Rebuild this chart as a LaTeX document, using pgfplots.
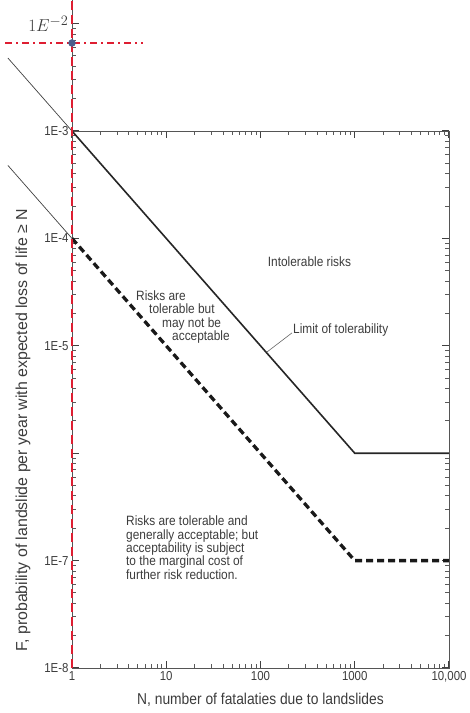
\documentclass[border=0pt]{standalone}
\usepackage{fontspec}
\setmainfont[FakeStretch=0.88]{Liberation Sans}
\newfontfamily\ylabfont{Liberation Sans}
\usepackage{pgfplots}
\pgfplotsset{compat=1.18}
\definecolor{riskred}{RGB}{222,30,50}
\definecolor{dotblue}{RGB}{75,95,140}
\definecolor{axgray}{RGB}{85,85,85}
\definecolor{txtgray}{RGB}{60,60,60}

\begin{document}
\begin{tikzpicture}
\useasboundingbox (-72pt,-45pt) rectangle (398pt,668pt);

% upper part of the F axis, up to 1E-2
\begin{axis}[
  scale only axis, width=377pt, height=668pt,
  xmode=log, ymode=log,
  xmin=1, xmax=10000, ymin=1e-8, ymax=0.01659,
  axis x line=none, axis y line*=left,
  axis line style={axgray, line width=0.9pt},
  major tick style={black!75, line width=1.2pt},
  minor tick style={black!65, line width=0.9pt},
  tick align=inside,
  major tick length=7pt, minor tick length=4pt,
  ytick={1e-3,1e-2}, yticklabels={,$1E^{-2}$},
  minor ytick={2e-3,3e-3,4e-3,5e-3,6e-3,7e-3,8e-3,9e-3},
  yticklabel style={font=\fontsize{19}{21}\selectfont, text=txtgray},
]
\end{axis}

\begin{axis}[
  scale only axis, width=377pt, height=537pt,
  xmode=log, ymode=log,
  xmin=1, xmax=10000, ymin=1e-8, ymax=1e-3,
  clip=false,
  axis line style={axgray, line width=0.9pt},
  major tick style={black!75, line width=1.2pt},
  minor tick style={black!65, line width=0.9pt},
  tick align=inside,
  major tick length=7pt, minor tick length=4pt,
  xtick={1,10,100,1000,10000},
  xticklabels={1,10,100,1000,{10,000}},
  minor xtick={2,3,4,5,6,7,8,9,20,30,40,50,60,70,80,90,200,300,400,500,600,700,800,900,2000,3000,4000,5000,6000,7000,8000,9000},
  ytick={1e-8,1e-7,1e-6,1e-5,1e-4,1e-3},
  yticklabels={1E-8,1E-7,,1E-5,1E-4,1E-3},
  minor ytick={2e-8,3e-8,4e-8,5e-8,6e-8,7e-8,8e-8,9e-8,
    2e-7,3e-7,4e-7,5e-7,6e-7,7e-7,8e-7,9e-7,
    2e-6,3e-6,4e-6,5e-6,6e-6,7e-6,8e-6,9e-6,
    2e-5,3e-5,4e-5,5e-5,6e-5,7e-5,8e-5,9e-5,
    2e-4,3e-4,4e-4,5e-4,6e-4,7e-4,8e-4,9e-4},
  ticklabel style={font=\fontsize{13}{15}\selectfont, text=txtgray},
  xlabel={N, number of fatalaties due to landslides},
  ylabel={\ylabfont F, probability of landslide per year with expected loss of life ≥ N},
  xlabel style={font=\fontsize{15.7}{18}\selectfont, text=txtgray,
    at={(axis description cs:0.5,-0.0596)}, anchor=center},
  ylabel style={font=\fontsize{15.9}{18}\selectfont, text=txtgray,
    at={(axis description cs:-0.130,0.443)}, anchor=center},
]
% limit of tolerability
\addplot[black!85, line width=1.6pt] coordinates {(1,1e-3) (1000,1e-6) (10000,1e-6)};
% limit of acceptability
\addplot[black!90, line width=3.3pt, dash pattern=on 7pt off 4pt] coordinates {(1,1e-4) (1000,1e-7) (10000,1e-7)};
% thin extensions left of N=1
\addplot[black!75, line width=0.7pt] coordinates {(0.209,4.78e-3) (1,1e-3)};
\addplot[black!75, line width=0.7pt] coordinates {(0.209,4.78e-4) (1,1e-4)};
% leader to label
\addplot[black!60, line width=0.6pt] coordinates {(117,8.75e-6) (216,1.32e-5)};
% red marker lines
\addplot[riskred, line width=1.8pt, dash pattern=on 9pt off 5pt] coordinates {(1,1e-8) (1,0.0166)};
\addplot[riskred, line width=2.5pt, dash pattern=on 7pt off 4pt on 2pt off 4pt] coordinates {(0.195,6.6e-3) (5.67,6.6e-3)};
\addplot[only marks, mark=*, mark size=3.5pt, dotblue] coordinates {(1,6.6e-3)};

\begin{scope}[every node/.style={font=\fontsize{13.5}{13.3}\selectfont, text=txtgray, inner sep=0pt}]
\node[anchor=center] at (axis cs:331,6.03e-5) {Intolerable risks};
\node[anchor=west, align=left] at (axis cs:4.78,1.85e-5) {Risks are\\\hspace*{13pt}tolerable but\\\hspace*{26pt}may not be\\\hspace*{36pt}acceptable};
\node[anchor=west] at (axis cs:221,1.4e-5) {Limit of tolerability};
\node[anchor=west, align=left] at (axis cs:3.74,1.32e-7) {Risks are tolerable and\\generally acceptable; but\\acceptability is subject\\to the marginal cost of\\further risk reduction.};
\end{scope}
\end{axis}
\end{tikzpicture}
\end{document}
